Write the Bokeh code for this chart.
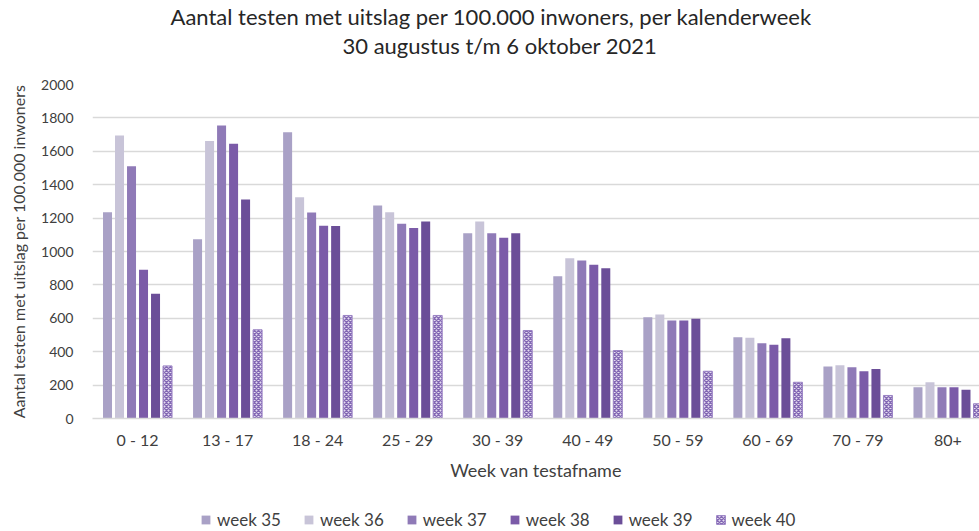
from bokeh.plotting import figure
from bokeh.layouts import column
from bokeh.models import ColumnDataSource, Range1d, FixedTicker, Title, Legend, LegendItem
from bokeh.transform import dodge
from bokeh.embed import file_html
from bokeh.resources import INLINE

categories = ["0 - 12", "13 - 17", "18 - 24", "25 - 29", "30 - 39",
              "40 - 49", "50 - 59", "60 - 69", "70 - 79", "80+"]
week35 = [1235, 1074, 1714, 1275, 1110, 852, 607, 487, 311, 187]
week36 = [1695, 1661, 1325, 1235, 1180, 960, 623, 483, 319, 217]
week37 = [1511, 1754, 1234, 1166, 1110, 946, 587, 451, 307, 187]
week38 = [890, 1645, 1154, 1140, 1082, 920, 587, 441, 283, 187]
week39 = [747, 1311, 1152, 1180, 1110, 900, 597, 481, 297, 172]
week40 = [315, 531, 617, 617, 527, 407, 283, 217, 138, 88]
series_names = ["week 35", "week 36", "week 37", "week 38", "week 39", "week 40"]
y_ticks = [0, 200, 400, 600, 800, 1000, 1200, 1400, 1600, 1800, 2000]

colors = ["#A9A1C6", "#C8C4D8", "#8F7AB7", "#7B5BA8", "#6B4E98", "#E4DDF0"]
FONT = "Lato"
TXT = "#404040"

src = ColumnDataSource(dict(idx=list(range(len(categories))),
                            w35=week35, w36=week36, w37=week37,
                            w38=week38, w39=week39, w40=week40))

p = figure(width=979, height=487, output_backend="svg", toolbar_location=None,
           x_range=Range1d(-0.5, 9.35), y_range=Range1d(0, 2000), title=None,
           min_border_left=92, min_border_right=0, min_border_top=84,
           min_border_bottom=69)
p.outline_line_color = None
p.background_fill_color = "white"
p.border_fill_color = "white"

# legend-only strip below the chart (its renderers are hidden)
p2 = figure(width=979, height=44, output_backend="svg", toolbar_location=None,
            x_range=Range1d(-0.5, 9.35), y_range=Range1d(0, 2000), title=None,
            x_axis_location=None, y_axis_location=None,
            min_border_left=0, min_border_right=0, min_border_top=0,
            min_border_bottom=0)
p2.outline_line_color = None
p2.grid.grid_line_color = None
p2.border_fill_color = "white"

cols = ["w35", "w36", "w37", "w38", "w39", "w40"]
pitch = 0.1333
items = []
for i, c in enumerate(cols):
    off = (i - 2.5) * pitch
    kw = dict(fill_color=colors[i], line_color=None)
    if c == "w40":
        kw.update(hatch_pattern="diagonal_cross", hatch_color="#8468B4",
                  hatch_scale=4, hatch_weight=1.4, line_color="#9A82C4",
                  line_width=1)
    p.vbar(x=dodge("idx", off), top=c, width=0.1, bottom=0, source=src, **kw)
    r2 = p2.vbar(x=dodge("idx", off), top=c, width=0.1, bottom=0, source=src,
                 visible=False, **kw)
    items.append(LegendItem(label=series_names[i], renderers=[r2]))

# axes
p.xgrid.grid_line_color = None
p.ygrid.grid_line_color = "#D9D9D9"
p.ygrid.grid_line_width = 1.3
p.yaxis.ticker = FixedTicker(ticks=y_ticks)
p.yaxis.axis_line_color = None
p.yaxis.major_tick_line_color = None
p.yaxis.minor_tick_line_color = None
p.yaxis.major_label_text_font = FONT
p.yaxis.major_label_text_font_size = "14px"
p.yaxis.major_label_text_color = TXT
p.yaxis.major_label_standoff = 13
p.yaxis.axis_label = "Aantal testen met uitslag per 100.000 inwoners"
p.yaxis.axis_label_text_font = FONT
p.yaxis.axis_label_text_font_size = "16px"
p.yaxis.axis_label_text_font_style = "normal"
p.yaxis.axis_label_text_color = TXT
p.yaxis.axis_label_standoff = 10

p.xaxis.ticker = FixedTicker(ticks=list(range(len(categories))))
p.xaxis.major_label_overrides = {i: c for i, c in enumerate(categories)}
p.xaxis.axis_line_color = "#D9D9D9"
p.xaxis.axis_line_width = 1.3
p.xaxis.major_tick_line_color = None
p.xaxis.minor_tick_line_color = None
p.xaxis.major_label_text_font = FONT
p.xaxis.major_label_text_font_size = "16px"
p.xaxis.major_label_text_color = TXT
p.xaxis.major_label_standoff = 5
p.xaxis.axis_label = "Week van testafname"
p.xaxis.axis_label_text_font = FONT
p.xaxis.axis_label_text_font_size = "18px"
p.xaxis.axis_label_text_font_style = "normal"
p.xaxis.axis_label_text_color = TXT
p.xaxis.axis_label_standoff = 7

legend = Legend(items=items, orientation="horizontal", location=(108, 1),
                glyph_width=11, glyph_height=11, label_standoff=6, spacing=22,
                label_text_font=FONT, label_text_font_size="17px",
                label_text_color=TXT, border_line_color=None,
                background_fill_alpha=0, margin=0, padding=0,
                inactive_fill_alpha=0)
p2.add_layout(legend, "center")

spacer = Title(text=" ", align="left", text_font=FONT, text_font_size="17px",
               standoff=2)
sub = Title(text="30 augustus t/m 6 oktober 2021", align="left", offset=250,
            text_font=FONT, text_font_size="22px", text_font_style="normal",
            text_color="#262626", standoff=1)
main = Title(text="Aantal testen met uitslag per 100.000 inwoners, per kalenderweek",
             align="left", offset=78, text_font=FONT, text_font_size="22px",
             text_font_style="normal", text_color="#262626", standoff=0)
p.add_layout(spacer, "above")
p.add_layout(sub, "above")
p.add_layout(main, "above")

page = column(p, p2, spacing=0)
open("out.html", "w").write(file_html(page, INLINE))
